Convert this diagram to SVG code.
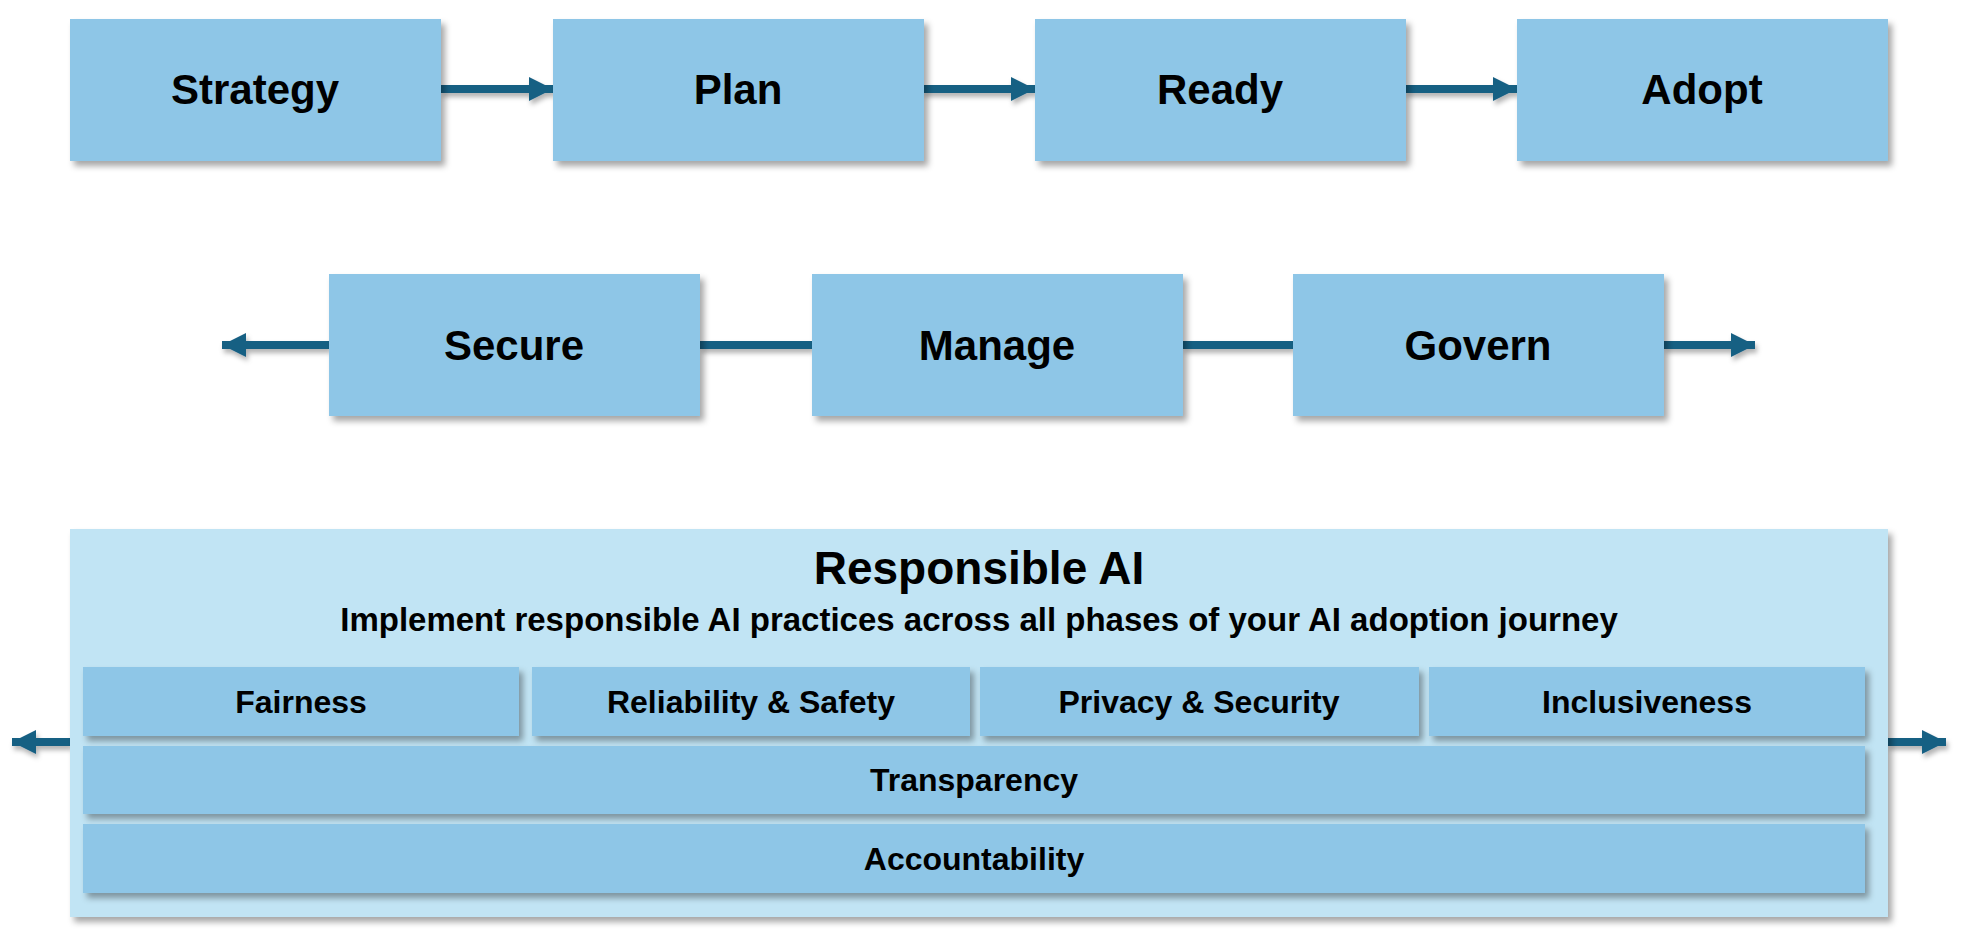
<svg xmlns="http://www.w3.org/2000/svg" width="1967" height="950" viewBox="0 0 1967 950">
<defs>
<filter id="sh" x="-10%" y="-10%" width="130%" height="140%">
<feDropShadow dx="4" dy="5" stdDeviation="3" flood-color="#000" flood-opacity="0.35"/>
</filter>
<filter id="shs" x="-10%" y="-50%" width="130%" height="250%">
<feDropShadow dx="2" dy="4" stdDeviation="2.5" flood-color="#000" flood-opacity="0.3"/>
</filter>
<marker id="ah" viewBox="0 0 24 24" refX="24" refY="12" markerWidth="24" markerHeight="24" markerUnits="userSpaceOnUse" orient="auto-start-reverse">
<path d="M0,0 L24,12 L0,24 Z" fill="#186083"/>
</marker>
</defs>
<style>
.box{fill:#8EC6E7;}
.panel{fill:#C1E4F4;}
.t{font-family:"Liberation Sans",Arial,sans-serif;font-weight:bold;fill:#000;text-anchor:middle;}
.big{font-size:42px;}
.sm{font-size:32px;}
.conn{stroke:#186083;stroke-width:8;fill:none;}
</style>
<rect width="1967" height="950" fill="#fff"/>
<g id="connectors" filter="url(#shs)">
<line class="conn" x1="441" y1="89" x2="553" y2="89" marker-end="url(#ah)"/>
<line class="conn" x1="923" y1="89" x2="1035" y2="89" marker-end="url(#ah)"/>
<line class="conn" x1="1405" y1="89" x2="1517" y2="89" marker-end="url(#ah)"/>
<line class="conn" x1="329" y1="345" x2="222" y2="345" marker-end="url(#ah)"/>
<line class="conn" x1="700" y1="345" x2="812" y2="345"/>
<line class="conn" x1="1183" y1="345" x2="1293" y2="345"/>
<line class="conn" x1="1664" y1="345" x2="1755" y2="345" marker-end="url(#ah)"/>
<line class="conn" x1="70" y1="742" x2="12" y2="742" marker-end="url(#ah)"/>
<line class="conn" x1="1888" y1="742" x2="1946" y2="742" marker-end="url(#ah)"/>
</g>
<g id="strategy"><rect class="box" x="70" y="19" width="371" height="142" filter="url(#sh)"/><text class="t big" x="255" y="104">Strategy</text></g>
<g id="plan"><rect class="box" x="553" y="19" width="371" height="142" filter="url(#sh)"/><text class="t big" x="738" y="104">Plan</text></g>
<g id="ready"><rect class="box" x="1035" y="19" width="371" height="142" filter="url(#sh)"/><text class="t big" x="1220" y="104">Ready</text></g>
<g id="adopt"><rect class="box" x="1517" y="19" width="371" height="142" filter="url(#sh)"/><text class="t big" x="1702" y="104">Adopt</text></g>
<g id="secure"><rect class="box" x="329" y="274" width="371" height="142" filter="url(#sh)"/><text class="t big" x="514" y="360">Secure</text></g>
<g id="manage"><rect class="box" x="812" y="274" width="371" height="142" filter="url(#sh)"/><text class="t big" x="997" y="360">Manage</text></g>
<g id="govern"><rect class="box" x="1293" y="274" width="371" height="142" filter="url(#sh)"/><text class="t big" x="1478" y="360">Govern</text></g>
<g id="responsible-ai">
<rect class="panel" x="70" y="529" width="1818" height="388" filter="url(#sh)"/>
<text class="t" style="font-size:46px" x="979" y="584">Responsible AI</text>
<text class="t" style="font-size:33px" x="979" y="631">Implement responsible AI practices across all phases of your AI adoption journey</text>
</g>
<g id="fairness"><rect class="box" x="83" y="667" width="436" height="69" filter="url(#sh)"/><text class="t sm" x="301" y="713">Fairness</text></g>
<g id="reliability-safety"><rect class="box" x="532" y="667" width="438" height="69" filter="url(#sh)"/><text class="t sm" x="751" y="713">Reliability &amp; Safety</text></g>
<g id="privacy-security"><rect class="box" x="980" y="667" width="439" height="69" filter="url(#sh)"/><text class="t sm" x="1199" y="713">Privacy &amp; Security</text></g>
<g id="inclusiveness"><rect class="box" x="1429" y="667" width="436" height="69" filter="url(#sh)"/><text class="t sm" x="1647" y="713">Inclusiveness</text></g>
<g id="transparency"><rect class="box" x="83" y="746" width="1782" height="68" filter="url(#sh)"/><text class="t sm" x="974" y="791">Transparency</text></g>
<g id="accountability"><rect class="box" x="83" y="824" width="1782" height="69" filter="url(#sh)"/><text class="t sm" x="974" y="870">Accountability</text></g>
</svg>
